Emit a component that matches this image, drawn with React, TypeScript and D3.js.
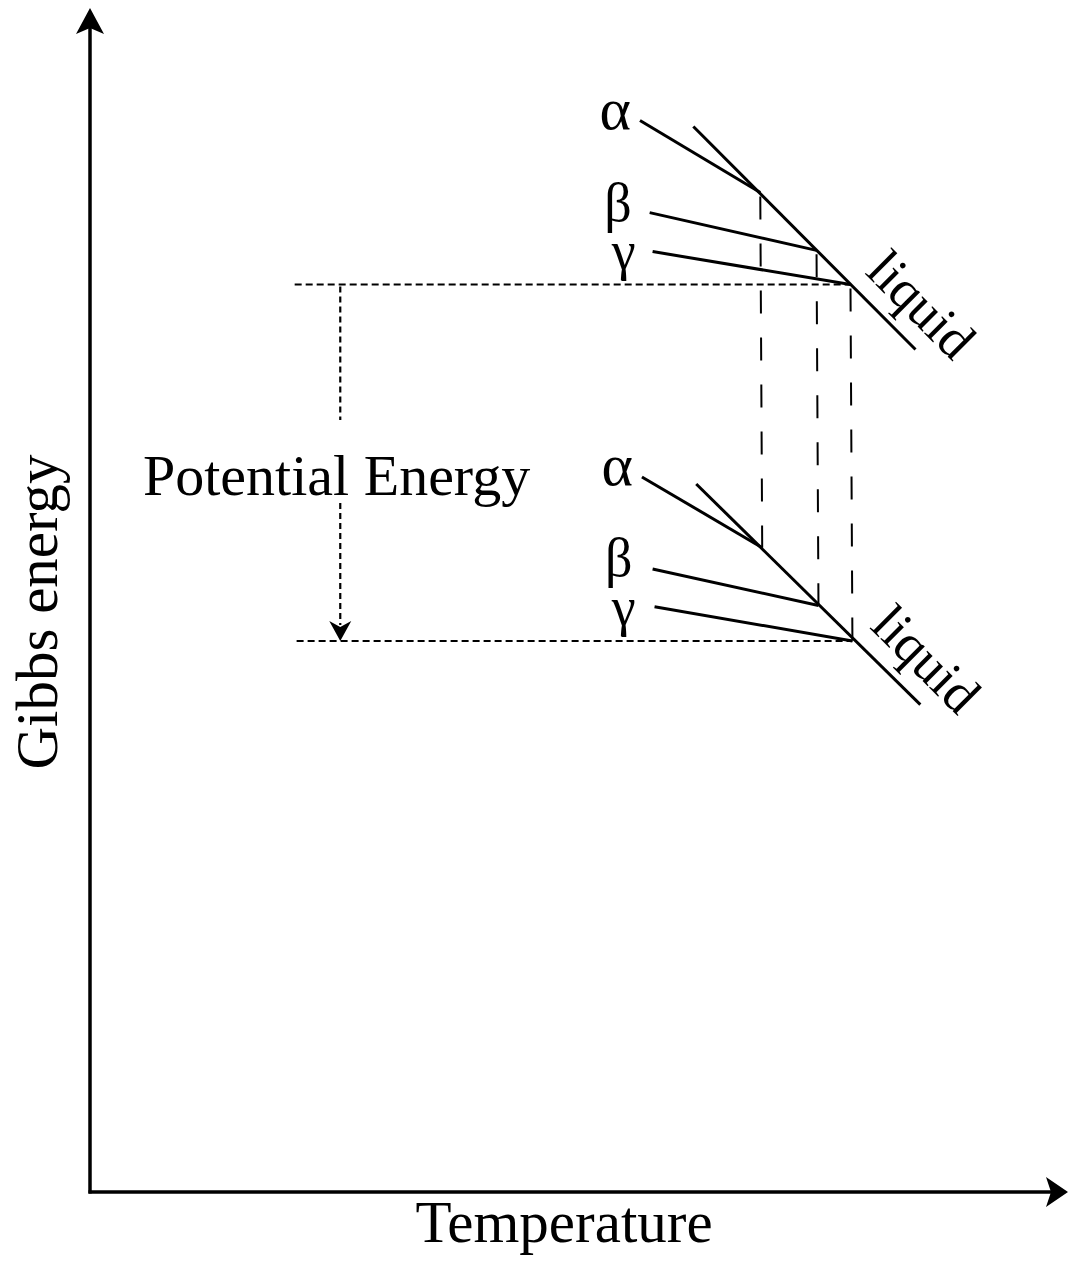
import React from "react";
import * as d3 from "d3";

// ---------- data (temperature / Gibbs energy in arbitrary units 0..100) ----------
const phases = ["α", "β", "γ"];

// upper set of curves
const upperStartT = [56.7, 57.7, 58.0];
const upperStartG = [90.8, 83.0, 79.7];
const upperMeltT = [69.1, 74.9, 78.4];
const upperMeltG = [84.7, 79.8, 76.9];
const upperLiquidT = [62.2, 85.1];
const upperLiquidG = [90.3, 71.4];

// lower set of curves
const lowerStartT = [56.9, 58.0, 58.2];
const lowerStartG = [60.6, 52.8, 49.6];
const lowerMeltT = [69.3, 75.1, 78.6];
const lowerMeltG = [54.6, 49.7, 46.7];
const lowerLiquidT = [62.5, 85.6];
const lowerLiquidG = [60.0, 41.3];

// reference (dotted) levels and the potential-energy arrow
const refLineStartT = [21.1, 21.3];
const arrowT = 25.8;

const xLabel = "Temperature";
const yLabel = "Gibbs energy";
const arrowLabel = "Potential Energy";
const liquidLabel = "liquid";

const W = 1069;
const H = 1268;
const FONT = "'Liberation Serif', 'Times New Roman', Times, serif";

export default function App() {
  const x = d3.scaleLinear().domain([0, 100]).range([90, 1060]);
  const y = d3.scaleLinear().domain([0, 100]).range([1192, 12]);
  const line = d3
    .line<[number, number]>()
    .x((d) => x(d[0]))
    .y((d) => y(d[1]));

  const x0 = x(0);
  const y0 = y(0);

  const sets = [
    {
      sT: upperStartT, sG: upperStartG, mT: upperMeltT, mG: upperMeltG,
      lT: upperLiquidT, lG: upperLiquidG, refT: refLineStartT[0],
      greek: [[-9, 8], [-18, 8], [-17, 17]],
      liq: [58, 33],
    },
    {
      sT: lowerStartT, sG: lowerStartG, mT: lowerMeltT, mG: lowerMeltG,
      lT: lowerLiquidT, lG: lowerLiquidG, refT: refLineStartT[1],
      greek: [[-9, 8], [-20, 7], [-19, 18]],
      liq: [61, 31],
    },
  ];

  const greekSize = [60, 54, 54];

  const up = sets[0];
  const lo = sets[1];
  const gamma = 2;
  const topRefY = y(up.mG[gamma]);
  const botRefY = y(lo.mG[gamma]);
  const ax = x(arrowT);

  return (
    <svg
      width={W}
      height={H}
      style={{ position: "absolute", left: 0, top: 0, background: "#fff" }}
      fontFamily={FONT}
    >
      {/* axes */}
      <line x1={x0} y1={y0 + 1.5} x2={x0} y2={20} stroke="#000" strokeWidth={3.5} />
      <line x1={x0 - 1.5} y1={y0} x2={1055} y2={y0} stroke="#000" strokeWidth={3.5} />
      <path
        d={`M${x0},8 L${x0 + 14},34 L${x0},28 L${x0 - 14},34 Z`}
        fill="#000"
      />
      <path
        d={`M1068,${y0} L1046,${y0 - 15} L1051,${y0} L1046,${y0 + 15} Z`}
        fill="#000"
      />

      {/* axis labels */}
      <text x={564} y={1242} fontSize={59} textAnchor="middle">
        {xLabel}
      </text>
      <text
        transform={`translate(57,612) rotate(-90)`}
        fontSize={59}
        textAnchor="middle"
      >
        {yLabel}
      </text>

      {/* dotted reference levels */}
      {sets.map((s, i) => (
        <line
          key={"ref" + i}
          x1={x(s.refT)}
          x2={x(s.mT[gamma])}
          y1={y(s.mG[gamma])}
          y2={y(s.mG[gamma])}
          stroke="#000"
          strokeWidth={2}
          strokeDasharray="7 4"
        />
      ))}

      {/* potential energy arrow */}
      <line x1={ax} x2={ax} y1={topRefY + 2} y2={420} stroke="#000" strokeWidth={2.2} strokeDasharray="6 4" />
      <line x1={ax} x2={ax} y1={503} y2={botRefY - 16} stroke="#000" strokeWidth={2.2} strokeDasharray="6 4" />
      <path
        d={`M${ax},${botRefY} L${ax + 11},${botRefY - 20} L${ax},${botRefY - 14} L${ax - 11},${botRefY - 20} Z`}
        fill="#000"
      />
      <text x={143} y={495} fontSize={58}>
        {arrowLabel}
      </text>

      {/* vertical dashed connectors at transition temperatures */}
      {phases.map((p, i) => (
        <line
          key={"dash" + i}
          x1={x(up.mT[i])}
          y1={y(up.mG[i])}
          x2={x(lo.mT[i])}
          y2={y(lo.mG[i])}
          stroke="#000"
          strokeWidth={2}
          strokeDasharray="23 24"
          strokeDashoffset={-4}
        />
      ))}

      {/* phase curves */}
      {sets.map((s, si) => (
        <g key={"set" + si}>
          {phases.map((p, i) => (
            <path
              key={p}
              d={line([
                [s.sT[i], s.sG[i]],
                [s.mT[i], s.mG[i]],
              ]) as string}
              stroke="#000"
              strokeWidth={3}
              fill="none"
            />
          ))}
          <path
            d={line([
              [s.lT[0], s.lG[0]],
              [s.lT[1], s.lG[1]],
            ]) as string}
            stroke="#000"
            strokeWidth={3}
            fill="none"
          />
          {phases.map((p, i) => (
            <text
              key={"lab" + p}
              x={x(s.sT[i]) + s.greek[i][0]}
              y={y(s.sG[i]) + s.greek[i][1]}
              fontSize={greekSize[i]}
              textAnchor="end"
            >
              {p}
            </text>
          ))}
          <text
            transform={`translate(${x(s.mT[gamma]) + s.liq[0]},${y(s.mG[gamma]) + s.liq[1]}) rotate(45)`}
            fontSize={54}
            textAnchor="middle"
          >
            {liquidLabel}
          </text>
        </g>
      ))}
    </svg>
  );
}
